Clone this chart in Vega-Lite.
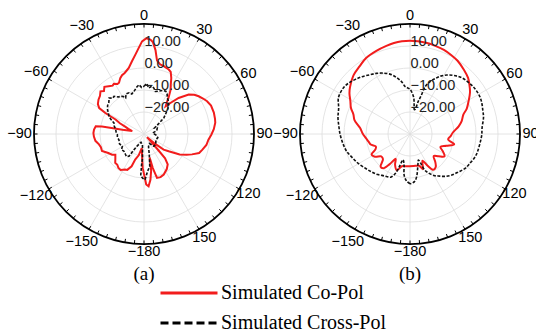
{
  "$schema": "https://vega.github.io/schema/vega-lite/v6.json",
  "background": "white",
  "padding": {"left": 7, "top": 8, "right": 5, "bottom": 5},
  "spacing": 46,
  "bounds": "flush",
  "config": {"view": {"stroke": null}},
  "datasets": {
    "rings": [{"db": -20}, {"db": -10}, {"db": 0}, {"db": 10}],
    "outer": [{"db": 20}],
    "spokes": [{"a": 0}, {"a": 30}, {"a": 60}, {"a": 90}, {"a": 120}, {"a": 150}, {"a": 180}, {"a": 210}, {"a": 240}, {"a": 270}, {"a": 300}, {"a": 330}],
    "ticks": [{"a": 0}, {"a": 5}, {"a": 10}, {"a": 15}, {"a": 20}, {"a": 25}, {"a": 30}, {"a": 35}, {"a": 40}, {"a": 45}, {"a": 50}, {"a": 55}, {"a": 60}, {"a": 65}, {"a": 70}, {"a": 75}, {"a": 80}, {"a": 85}, {"a": 90}, {"a": 95}, {"a": 100}, {"a": 105}, {"a": 110}, {"a": 115}, {"a": 120}, {"a": 125}, {"a": 130}, {"a": 135}, {"a": 140}, {"a": 145}, {"a": 150}, {"a": 155}, {"a": 160}, {"a": 165}, {"a": 170}, {"a": 175}, {"a": 180}, {"a": 185}, {"a": 190}, {"a": 195}, {"a": 200}, {"a": 205}, {"a": 210}, {"a": 215}, {"a": 220}, {"a": 225}, {"a": 230}, {"a": 235}, {"a": 240}, {"a": 245}, {"a": 250}, {"a": 255}, {"a": 260}, {"a": 265}, {"a": 270}, {"a": 275}, {"a": 280}, {"a": 285}, {"a": 290}, {"a": 295}, {"a": 300}, {"a": 305}, {"a": 310}, {"a": 315}, {"a": 320}, {"a": 325}, {"a": 330}, {"a": 335}, {"a": 340}, {"a": 345}, {"a": 350}, {"a": 355}],
    "labels": [{"a": 0}, {"a": 30}, {"a": 60}, {"a": 90}, {"a": 120}, {"a": 150}, {"a": -30}, {"a": -60}, {"a": -90}, {"a": -120}, {"a": -150}, {"a": -180}],
    "aCo": [
      {"a": -178, "db": -14}, {"a": -175, "db": -20}, {"a": -171, "db": -23.5}, {"a": -166, "db": -20}, {"a": -161, "db": -17.7}, {"a": -159, "db": -14.3}, {"a": -155, "db": -12}, {"a": -152, "db": -11.7}, {"a": -147, "db": -10.5}, {"a": -143, "db": -10.7}, {"a": -139, "db": -11.5}, {"a": -135, "db": -11.5}, {"a": -130, "db": -13}, {"a": -126, "db": -13.9}, {"a": -123, "db": -12.7}, {"a": -118, "db": -11.6}, {"a": -112, "db": -9.4}, {"a": -107, "db": -9.5}, {"a": -103, "db": -9}, {"a": -98, "db": -7.7}, {"a": -93, "db": -7.2}, {"a": -89, "db": -7}, {"a": -85, "db": -7.2}, {"a": -81, "db": -7.8}, {"a": -80, "db": -10.6}, {"a": -79.5, "db": -15}, {"a": -79, "db": -20}, {"a": -76, "db": -24.5}, {"a": -72, "db": -22.5}, {"a": -69, "db": -21}, {"a": -66, "db": -18}, {"a": -63, "db": -15.5}, {"a": -61.5, "db": -10}, {"a": -60, "db": -6.5}, {"a": -57, "db": -5}, {"a": -53, "db": -4.1}, {"a": -49, "db": -3.5}, {"a": -45.6, "db": -2.3}, {"a": -43, "db": -3.3}, {"a": -40, "db": -2}, {"a": -36.5, "db": -3}, {"a": -33, "db": -3.8}, {"a": -31, "db": -3.4}, {"a": -28, "db": -4.3}, {"a": -26, "db": -4.1}, {"a": -23, "db": -2.4}, {"a": -20.5, "db": -1.5}, {"a": -17.6, "db": -0.9}, {"a": -15, "db": 0}, {"a": -13, "db": 0.8}, {"a": -9.4, "db": 3.5}, {"a": -6.2, "db": 6.3}, {"a": -3.5, "db": 9.2}, {"a": -1.2, "db": 12.1}, {"a": 1.3, "db": 13.5}, {"a": 3.9, "db": 13}, {"a": 5.5, "db": 12}, {"a": 7.8, "db": 8.5}, {"a": 10, "db": 4}, {"a": 13, "db": 2.5}, {"a": 16, "db": 2.2}, {"a": 18, "db": 1.8}, {"a": 21, "db": 1.4}, {"a": 23.3, "db": 0.7}, {"a": 26, "db": -1.7}, {"a": 28.5, "db": -4.5}, {"a": 31, "db": -6.5}, {"a": 33.5, "db": -9.5}, {"a": 35.6, "db": -12}, {"a": 38, "db": -14}, {"a": 40.4, "db": -11.5}, {"a": 43.9, "db": -7.3}, {"a": 48.6, "db": -2.9}, {"a": 52, "db": -1}, {"a": 55.4, "db": 0.2}, {"a": 59, "db": 1.3}, {"a": 62.6, "db": 2.3}, {"a": 67, "db": 3.1}, {"a": 73, "db": 3.2}, {"a": 78, "db": 3}, {"a": 81, "db": 2.8}, {"a": 86, "db": 1.8}, {"a": 90.6, "db": 0.6}, {"a": 95, "db": -0.6}, {"a": 100, "db": -1.2}, {"a": 105, "db": -2.5}, {"a": 109, "db": -3.5}, {"a": 113, "db": -6.3}, {"a": 116, "db": -8.5}, {"a": 120, "db": -11.3}, {"a": 125, "db": -16.3}, {"a": 128.5, "db": -18.6}, {"a": 132, "db": -24}, {"a": 136, "db": -28}, {"a": 138.5, "db": -20}, {"a": 139, "db": -15.4}, {"a": 142, "db": -12.5}, {"a": 147, "db": -11}, {"a": 154, "db": -9.5}, {"a": 159, "db": -9}, {"a": 163.5, "db": -9.2}, {"a": 165.5, "db": -14}, {"a": 166.5, "db": -19}, {"a": 169, "db": -13}, {"a": 172, "db": -9}, {"a": 175, "db": -6.1}, {"a": 177.5, "db": -7}, {"a": 179.5, "db": -11}, {"a": -178.5, "db": -13.8}, {"a": -178, "db": -14}
    ],
    "aX": [
      {"a": 0, "db": -8.3}, {"a": 3, "db": -7}, {"a": 6, "db": -9}, {"a": 9, "db": -8}, {"a": 12, "db": -8.6}, {"a": 15, "db": -10}, {"a": 19, "db": -9.4}, {"a": 23, "db": -8.5}, {"a": 27, "db": -8.2}, {"a": 30, "db": -9}, {"a": 33, "db": -10.5}, {"a": 37, "db": -11.5}, {"a": 41.7, "db": -13.1}, {"a": 44, "db": -14.7}, {"a": 48, "db": -17}, {"a": 51, "db": -18.4}, {"a": 55, "db": -22}, {"a": 60, "db": -24.5}, {"a": 66, "db": -23.4}, {"a": 75, "db": -24}, {"a": 83, "db": -26}, {"a": 95, "db": -24.5}, {"a": 105, "db": -23.5}, {"a": 116, "db": -24}, {"a": 130, "db": -23}, {"a": 141, "db": -22.8}, {"a": 150, "db": -25}, {"a": 160, "db": -24}, {"a": 166, "db": -20}, {"a": 170, "db": -15}, {"a": 174.5, "db": -13}, {"a": 178.7, "db": -9.2}, {"a": -178.5, "db": -9.8}, {"a": -175.5, "db": -11}, {"a": -175.5, "db": -16}, {"a": -176.5, "db": -19}, {"a": -172, "db": -25}, {"a": -160, "db": -26}, {"a": -150, "db": -23.5}, {"a": -147.5, "db": -21.5}, {"a": -146, "db": -17.8}, {"a": -142, "db": -17}, {"a": -138.5, "db": -17.4}, {"a": -130, "db": -18}, {"a": -125, "db": -17.5}, {"a": -119.5, "db": -18.7}, {"a": -112, "db": -18}, {"a": -102.8, "db": -18.3}, {"a": -97, "db": -17.8}, {"a": -91.4, "db": -17.9}, {"a": -86, "db": -17.3}, {"a": -81.3, "db": -17}, {"a": -75, "db": -16}, {"a": -69.9, "db": -15.5}, {"a": -66, "db": -13.5}, {"a": -63.2, "db": -12.2}, {"a": -59, "db": -11}, {"a": -56, "db": -10}, {"a": -52, "db": -9}, {"a": -48, "db": -8.5}, {"a": -44.2, "db": -7.2}, {"a": -41, "db": -8.4}, {"a": -38.5, "db": -8.1}, {"a": -35, "db": -9.5}, {"a": -31.7, "db": -9.9}, {"a": -29, "db": -10.5}, {"a": -27, "db": -11.6}, {"a": -24, "db": -10}, {"a": -20, "db": -10.1}, {"a": -17, "db": -11}, {"a": -13.2, "db": -10.1}, {"a": -9, "db": -8.5}, {"a": -5.8, "db": -7.5}, {"a": -3, "db": -8.8}, {"a": 0, "db": -8.3}
    ],
    "bCo": [
      {"a": -180, "db": -15.3}, {"a": -172, "db": -15.2}, {"a": -166, "db": -14.9}, {"a": -160, "db": -12.5}, {"a": -154, "db": -14.5}, {"a": -150, "db": -17}, {"a": -146, "db": -13.5}, {"a": -142, "db": -10.2}, {"a": -138, "db": -10}, {"a": -133, "db": -13.2}, {"a": -128, "db": -13.4}, {"a": -123, "db": -11}, {"a": -118, "db": -10.2}, {"a": -114, "db": -12.8}, {"a": -110, "db": -13.5}, {"a": -105, "db": -11.5}, {"a": -100, "db": -10.8}, {"a": -95, "db": -9.8}, {"a": -89, "db": -8.4}, {"a": -83, "db": -7.1}, {"a": -76, "db": -4}, {"a": -71, "db": -2.8}, {"a": -66, "db": -0.6}, {"a": -61, "db": 1}, {"a": -56, "db": 3.2}, {"a": -52, "db": 4.6}, {"a": -44, "db": 7}, {"a": -36.5, "db": 8.4}, {"a": -30, "db": 9.9}, {"a": -22, "db": 10.8}, {"a": -15, "db": 11.5}, {"a": -10, "db": 12}, {"a": -5, "db": 12.3}, {"a": 0, "db": 12.4}, {"a": 5, "db": 12.3}, {"a": 10, "db": 12.1}, {"a": 16, "db": 11.7}, {"a": 22, "db": 11.2}, {"a": 28, "db": 10.4}, {"a": 33, "db": 9.7}, {"a": 40, "db": 8.1}, {"a": 46, "db": 6.7}, {"a": 50, "db": 5.2}, {"a": 55, "db": 3.3}, {"a": 61, "db": 0.4}, {"a": 66, "db": -1.8}, {"a": 70, "db": -4.2}, {"a": 76, "db": -5.8}, {"a": 81, "db": -7.6}, {"a": 88, "db": -10.5}, {"a": 93, "db": -11.5}, {"a": 98, "db": -12.5}, {"a": 103, "db": -9.4}, {"a": 108, "db": -12.6}, {"a": 113, "db": -15}, {"a": 118, "db": -13}, {"a": 123, "db": -11.3}, {"a": 128, "db": -13.5}, {"a": 133, "db": -15.3}, {"a": 138, "db": -12.8}, {"a": 142, "db": -11}, {"a": 147, "db": -10.6}, {"a": 151, "db": -13.5}, {"a": 155, "db": -16.6}, {"a": 160, "db": -13}, {"a": 164, "db": -15}, {"a": 170, "db": -15.3}, {"a": 180, "db": -15.3}
    ],
    "bX": [
      {"a": -180, "db": -7.4}, {"a": -176, "db": -8.5}, {"a": -172, "db": -11}, {"a": -169, "db": -15.8}, {"a": -165, "db": -17.9}, {"a": -162, "db": -14.5}, {"a": -160, "db": -11.1}, {"a": -156, "db": -8.5}, {"a": -152, "db": -8}, {"a": -146, "db": -7.3}, {"a": -140, "db": -6.2}, {"a": -134, "db": -5.4}, {"a": -128, "db": -4.5}, {"a": -120, "db": -3}, {"a": -112, "db": -1.6}, {"a": -105, "db": -0.1}, {"a": -98, "db": 0.8}, {"a": -90, "db": 1.8}, {"a": -84, "db": 2.5}, {"a": -77, "db": 3.6}, {"a": -70, "db": 4.5}, {"a": -63, "db": 6.5}, {"a": -55, "db": 6.8}, {"a": -50, "db": 6.2}, {"a": -45, "db": 5.1}, {"a": -40, "db": 4}, {"a": -34, "db": 2.5}, {"a": -29, "db": 1.5}, {"a": -24, "db": 0.3}, {"a": -18, "db": -1.5}, {"a": -13, "db": -3.8}, {"a": -9, "db": -6}, {"a": -6, "db": -8.2}, {"a": -3, "db": -9}, {"a": 0, "db": -9.7}, {"a": 3, "db": -11.3}, {"a": 6, "db": -13.5}, {"a": 8, "db": -16.5}, {"a": 10, "db": -18.7}, {"a": 12, "db": -18.5}, {"a": 14, "db": -15}, {"a": 16, "db": -12.2}, {"a": 18, "db": -7.2}, {"a": 21, "db": -4.5}, {"a": 25, "db": -2}, {"a": 28, "db": -0.2}, {"a": 32, "db": 1.6}, {"a": 37, "db": 3.3}, {"a": 43, "db": 4.8}, {"a": 50, "db": 5.6}, {"a": 56, "db": 6}, {"a": 62, "db": 6}, {"a": 67, "db": 5.5}, {"a": 72, "db": 4.8}, {"a": 77, "db": 4.3}, {"a": 85, "db": 2.9}, {"a": 91, "db": 2.6}, {"a": 96, "db": 2.2}, {"a": 103, "db": 1.8}, {"a": 108, "db": 1.5}, {"a": 115, "db": 0.5}, {"a": 122, "db": -0.5}, {"a": 128, "db": -2}, {"a": 135, "db": -3.5}, {"a": 141, "db": -5.2}, {"a": 146, "db": -7}, {"a": 150, "db": -8.2}, {"a": 155, "db": -10.6}, {"a": 158, "db": -12.5}, {"a": 160, "db": -16}, {"a": 162, "db": -17.6}, {"a": 165, "db": -16}, {"a": 168, "db": -13.5}, {"a": 171, "db": -10.5}, {"a": 174, "db": -8.5}, {"a": 177, "db": -7.7}, {"a": 180, "db": -7.4}
    ]
  },
  "hconcat": [
    {
      "width": 220,
      "height": 220,
      "title": {"text": "(a)", "orient": "bottom", "offset": 7, "font": "Liberation Serif", "fontSize": 19, "fontWeight": "normal", "color": "#000", "anchor": "middle"},
      "layer": [
        {
          "data": {"name": "spokes"},
          "transform": [{"calculate": "50*sin(datum.a*PI/180)", "as": "sx"}, {"calculate": "50*cos(datum.a*PI/180)", "as": "sy"}, {"calculate": "0", "as": "c"}],
          "mark": {"type": "rule", "color": "#dddddd", "strokeWidth": 0.8},
          "encoding": {
            "x": {"field": "c", "type": "quantitative", "scale": {"domain": [-50, 50], "nice": false, "zero": false}, "axis": null},
            "y": {"field": "c", "type": "quantitative", "scale": {"domain": [-50, 50], "nice": false, "zero": false}, "axis": null},
            "x2": {"field": "sx"},
            "y2": {"field": "sy"}
          }
        },
        {
          "data": {"name": "rings"},
          "transform": [{"calculate": "datum.db+30", "as": "r"}, {"calculate": "0", "as": "c"}],
          "mark": {"type": "point", "shape": "circle", "filled": false, "color": "#dddddd", "strokeWidth": 0.8, "opacity": 1},
          "encoding": {
            "x": {"field": "c", "type": "quantitative", "scale": {"domain": [-50, 50], "nice": false, "zero": false}, "axis": null},
            "y": {"field": "c", "type": "quantitative", "scale": {"domain": [-50, 50], "nice": false, "zero": false}, "axis": null},
            "size": {"field": "r", "type": "quantitative", "scale": {"type": "pow", "exponent": 2, "domain": [0, 50], "range": [0, 48400], "zero": true}, "legend": null}
          }
        },
        {
          "data": {"name": "outer"},
          "transform": [{"calculate": "datum.db+30", "as": "r"}, {"calculate": "0", "as": "c"}],
          "mark": {"type": "point", "shape": "circle", "filled": false, "color": "#000000", "strokeWidth": 1.8, "opacity": 1},
          "encoding": {
            "x": {"field": "c", "type": "quantitative", "scale": {"domain": [-50, 50], "nice": false, "zero": false}, "axis": null},
            "y": {"field": "c", "type": "quantitative", "scale": {"domain": [-50, 50], "nice": false, "zero": false}, "axis": null},
            "size": {"field": "r", "type": "quantitative", "scale": {"type": "pow", "exponent": 2, "domain": [0, 50], "range": [0, 48400], "zero": true}, "legend": null}
          }
        },
        {
          "data": {"name": "ticks"},
          "transform": [{"calculate": "50*sin(datum.a*PI/180)", "as": "tx"}, {"calculate": "50*cos(datum.a*PI/180)", "as": "ty"}, {"calculate": "48.4*sin(datum.a*PI/180)", "as": "tx2"}, {"calculate": "48.4*cos(datum.a*PI/180)", "as": "ty2"}],
          "mark": {"type": "rule", "color": "#000000", "strokeWidth": 1},
          "encoding": {
            "x": {"field": "tx", "type": "quantitative", "scale": {"domain": [-50, 50], "nice": false, "zero": false}, "axis": null},
            "y": {"field": "ty", "type": "quantitative", "scale": {"domain": [-50, 50], "nice": false, "zero": false}, "axis": null},
            "x2": {"field": "tx2"},
            "y2": {"field": "ty2"}
          }
        },
        {
          "data": {"name": "labels"},
          "transform": [
            {"calculate": "(datum.a < 0 && datum.a > -180) ? 56.6 : ((datum.a == 0 || datum.a == -180) ? 53.5 : 54.8)", "as": "lr"},
            {"calculate": "datum.lr*sin(datum.a*PI/180)", "as": "lx"},
            {"calculate": "datum.lr*cos(datum.a*PI/180)", "as": "ly"}
          ],
          "mark": {"type": "text", "font": "Liberation Sans", "fontSize": 14.5, "color": "#000000", "align": "center", "baseline": "middle"},
          "encoding": {
            "x": {"field": "lx", "type": "quantitative", "scale": {"domain": [-50, 50], "nice": false, "zero": false}, "axis": null},
            "y": {"field": "ly", "type": "quantitative", "scale": {"domain": [-50, 50], "nice": false, "zero": false}, "axis": null},
            "text": {"field": "a", "type": "quantitative", "format": "d"}
          }
        },
        {
          "data": {"name": "aCo"},
          "transform": [{"window": [{"op": "row_number", "as": "i"}]}, {"calculate": "max(datum.db+30,0)", "as": "rr"}, {"calculate": "datum.rr*sin(datum.a*PI/180)", "as": "px"}, {"calculate": "datum.rr*cos(datum.a*PI/180)", "as": "py"}],
          "mark": {"type": "line", "strokeWidth": 2, "interpolate": "linear"},
          "encoding": {
            "x": {"field": "px", "type": "quantitative", "scale": {"domain": [-50, 50], "nice": false, "zero": false}, "axis": null},
            "y": {"field": "py", "type": "quantitative", "scale": {"domain": [-50, 50], "nice": false, "zero": false}, "axis": null},
            "order": {"field": "i", "type": "quantitative"},
            "color": {"datum": "Simulated Co-Pol", "type": "nominal",
              "scale": {"domain": ["Simulated Co-Pol"], "range": ["#f21c1c"]},
              "legend": {"orient": "none", "legendX": 125, "legendY": 239, "title": null, "symbolType": "stroke", "symbolSize": 3249, "symbolStrokeWidth": 3, "labelFont": "Liberation Serif", "labelFontSize": 20, "labelColor": "#000000", "labelOffset": 2, "padding": 0, "labelLimit": 400}}
          }
        },
        {
          "data": {"name": "aX"},
          "transform": [{"window": [{"op": "row_number", "as": "i"}]}, {"calculate": "max(datum.db+30,0)", "as": "rr"}, {"calculate": "datum.rr*sin(datum.a*PI/180)", "as": "px"}, {"calculate": "datum.rr*cos(datum.a*PI/180)", "as": "py"}],
          "mark": {"type": "line", "strokeWidth": 1.6, "color": "#111111", "strokeDash": [3, 1.6], "interpolate": "linear"},
          "encoding": {
            "x": {"field": "px", "type": "quantitative", "scale": {"domain": [-50, 50], "nice": false, "zero": false}, "axis": null},
            "y": {"field": "py", "type": "quantitative", "scale": {"domain": [-50, 50], "nice": false, "zero": false}, "axis": null},
            "order": {"field": "i", "type": "quantitative"}
          }
        },
        {
          "data": {"values": []},
          "mark": {"type": "line", "strokeWidth": 3, "color": "#000000"},
          "encoding": {
            "x": {"field": "px", "type": "quantitative", "scale": {"domain": [-50, 50], "nice": false, "zero": false}, "axis": null},
            "y": {"field": "py", "type": "quantitative", "scale": {"domain": [-50, 50], "nice": false, "zero": false}, "axis": null},
            "strokeDash": {"datum": "Simulated Cross-Pol", "type": "nominal",
              "scale": {"domain": ["Simulated Cross-Pol"], "range": [[8, 4]]},
              "legend": {"orient": "none", "legendX": 125, "legendY": 268, "title": null, "symbolType": "stroke", "symbolSize": 3481, "symbolStrokeWidth": 3, "symbolStrokeColor": "#000000", "labelFont": "Liberation Serif", "labelFontSize": 20, "labelColor": "#000000", "labelOffset": 0, "padding": 0, "labelLimit": 400}}
          }
        },
        {
          "data": {"name": "rings"},
          "transform": [{"calculate": "datum.db+30", "as": "r"}, {"calculate": "0", "as": "c"}],
          "mark": {"type": "text", "align": "left", "baseline": "alphabetic", "dx": 0.5, "dy": 0, "font": "Liberation Sans", "fontSize": 14.5, "color": "#222222"},
          "encoding": {
            "x": {"field": "c", "type": "quantitative", "scale": {"domain": [-50, 50], "nice": false, "zero": false}, "axis": null},
            "y": {"field": "r", "type": "quantitative", "scale": {"domain": [-50, 50], "nice": false, "zero": false}, "axis": null},
            "text": {"field": "db", "type": "quantitative", "format": ".2f"}
          }
        }
      ]
    },
    {
      "width": 220,
      "height": 220,
      "title": {"text": "(b)", "orient": "bottom", "offset": 7, "font": "Liberation Serif", "fontSize": 19, "fontWeight": "normal", "color": "#000", "anchor": "middle"},
      "layer": [
        {
          "data": {"name": "spokes"},
          "transform": [{"calculate": "50*sin(datum.a*PI/180)", "as": "sx"}, {"calculate": "50*cos(datum.a*PI/180)", "as": "sy"}, {"calculate": "0", "as": "c"}],
          "mark": {"type": "rule", "color": "#dddddd", "strokeWidth": 0.8},
          "encoding": {
            "x": {"field": "c", "type": "quantitative", "scale": {"domain": [-50, 50], "nice": false, "zero": false}, "axis": null},
            "y": {"field": "c", "type": "quantitative", "scale": {"domain": [-50, 50], "nice": false, "zero": false}, "axis": null},
            "x2": {"field": "sx"},
            "y2": {"field": "sy"}
          }
        },
        {
          "data": {"name": "rings"},
          "transform": [{"calculate": "datum.db+30", "as": "r"}, {"calculate": "0", "as": "c"}],
          "mark": {"type": "point", "shape": "circle", "filled": false, "color": "#dddddd", "strokeWidth": 0.8, "opacity": 1},
          "encoding": {
            "x": {"field": "c", "type": "quantitative", "scale": {"domain": [-50, 50], "nice": false, "zero": false}, "axis": null},
            "y": {"field": "c", "type": "quantitative", "scale": {"domain": [-50, 50], "nice": false, "zero": false}, "axis": null},
            "size": {"field": "r", "type": "quantitative", "scale": {"type": "pow", "exponent": 2, "domain": [0, 50], "range": [0, 48400], "zero": true}, "legend": null}
          }
        },
        {
          "data": {"name": "outer"},
          "transform": [{"calculate": "datum.db+30", "as": "r"}, {"calculate": "0", "as": "c"}],
          "mark": {"type": "point", "shape": "circle", "filled": false, "color": "#000000", "strokeWidth": 1.8, "opacity": 1},
          "encoding": {
            "x": {"field": "c", "type": "quantitative", "scale": {"domain": [-50, 50], "nice": false, "zero": false}, "axis": null},
            "y": {"field": "c", "type": "quantitative", "scale": {"domain": [-50, 50], "nice": false, "zero": false}, "axis": null},
            "size": {"field": "r", "type": "quantitative", "scale": {"type": "pow", "exponent": 2, "domain": [0, 50], "range": [0, 48400], "zero": true}, "legend": null}
          }
        },
        {
          "data": {"name": "ticks"},
          "transform": [{"calculate": "50*sin(datum.a*PI/180)", "as": "tx"}, {"calculate": "50*cos(datum.a*PI/180)", "as": "ty"}, {"calculate": "48.4*sin(datum.a*PI/180)", "as": "tx2"}, {"calculate": "48.4*cos(datum.a*PI/180)", "as": "ty2"}],
          "mark": {"type": "rule", "color": "#000000", "strokeWidth": 1},
          "encoding": {
            "x": {"field": "tx", "type": "quantitative", "scale": {"domain": [-50, 50], "nice": false, "zero": false}, "axis": null},
            "y": {"field": "ty", "type": "quantitative", "scale": {"domain": [-50, 50], "nice": false, "zero": false}, "axis": null},
            "x2": {"field": "tx2"},
            "y2": {"field": "ty2"}
          }
        },
        {
          "data": {"name": "labels"},
          "transform": [
            {"calculate": "(datum.a < 0 && datum.a > -180) ? 56.6 : ((datum.a == 0 || datum.a == -180) ? 53.5 : 54.8)", "as": "lr"},
            {"calculate": "datum.lr*sin(datum.a*PI/180)", "as": "lx"},
            {"calculate": "datum.lr*cos(datum.a*PI/180)", "as": "ly"}
          ],
          "mark": {"type": "text", "font": "Liberation Sans", "fontSize": 14.5, "color": "#000000", "align": "center", "baseline": "middle"},
          "encoding": {
            "x": {"field": "lx", "type": "quantitative", "scale": {"domain": [-50, 50], "nice": false, "zero": false}, "axis": null},
            "y": {"field": "ly", "type": "quantitative", "scale": {"domain": [-50, 50], "nice": false, "zero": false}, "axis": null},
            "text": {"field": "a", "type": "quantitative", "format": "d"}
          }
        },
        {
          "data": {"name": "bCo"},
          "transform": [{"window": [{"op": "row_number", "as": "i"}]}, {"calculate": "max(datum.db+30,0)", "as": "rr"}, {"calculate": "datum.rr*sin(datum.a*PI/180)", "as": "px"}, {"calculate": "datum.rr*cos(datum.a*PI/180)", "as": "py"}],
          "mark": {"type": "line", "strokeWidth": 2, "interpolate": "catmull-rom"},
          "encoding": {
            "x": {"field": "px", "type": "quantitative", "scale": {"domain": [-50, 50], "nice": false, "zero": false}, "axis": null},
            "y": {"field": "py", "type": "quantitative", "scale": {"domain": [-50, 50], "nice": false, "zero": false}, "axis": null},
            "order": {"field": "i", "type": "quantitative"},
            "color": {"datum": "Simulated Co-Pol", "type": "nominal"}
          }
        },
        {
          "data": {"name": "bX"},
          "transform": [{"window": [{"op": "row_number", "as": "i"}]}, {"calculate": "max(datum.db+30,0)", "as": "rr"}, {"calculate": "datum.rr*sin(datum.a*PI/180)", "as": "px"}, {"calculate": "datum.rr*cos(datum.a*PI/180)", "as": "py"}],
          "mark": {"type": "line", "strokeWidth": 1.6, "color": "#111111", "strokeDash": [3, 1.6], "interpolate": "catmull-rom"},
          "encoding": {
            "x": {"field": "px", "type": "quantitative", "scale": {"domain": [-50, 50], "nice": false, "zero": false}, "axis": null},
            "y": {"field": "py", "type": "quantitative", "scale": {"domain": [-50, 50], "nice": false, "zero": false}, "axis": null},
            "order": {"field": "i", "type": "quantitative"}
          }
        },
        {
          "data": {"values": []},
          "mark": {"type": "line", "strokeWidth": 3, "color": "#000000"},
          "encoding": {
            "x": {"field": "px", "type": "quantitative", "scale": {"domain": [-50, 50], "nice": false, "zero": false}, "axis": null},
            "y": {"field": "py", "type": "quantitative", "scale": {"domain": [-50, 50], "nice": false, "zero": false}, "axis": null},
            "strokeDash": {"datum": "Simulated Cross-Pol", "type": "nominal"}
          }
        },
        {
          "data": {"name": "rings"},
          "transform": [{"calculate": "datum.db+30", "as": "r"}, {"calculate": "0", "as": "c"}],
          "mark": {"type": "text", "align": "left", "baseline": "alphabetic", "dx": 0.5, "dy": 0, "font": "Liberation Sans", "fontSize": 14.5, "color": "#222222"},
          "encoding": {
            "x": {"field": "c", "type": "quantitative", "scale": {"domain": [-50, 50], "nice": false, "zero": false}, "axis": null},
            "y": {"field": "r", "type": "quantitative", "scale": {"domain": [-50, 50], "nice": false, "zero": false}, "axis": null},
            "text": {"field": "db", "type": "quantitative", "format": ".2f"}
          }
        }
      ]
    }
  ]
}
